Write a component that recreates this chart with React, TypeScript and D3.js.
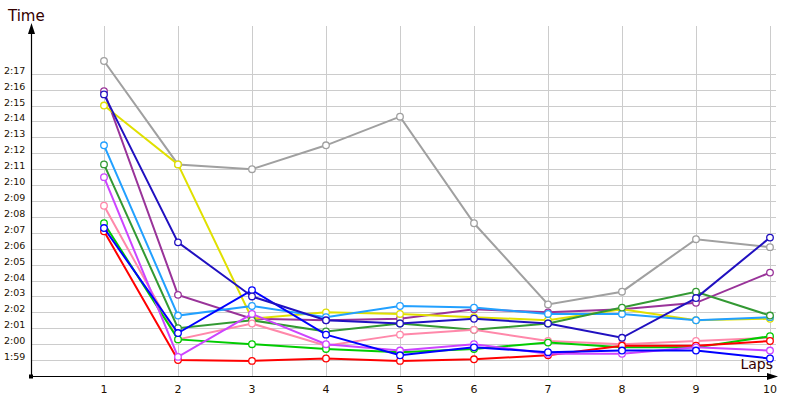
import React, { useEffect, useRef } from 'react';
import * as d3 from 'd3';

const laps = [1, 2, 3, 4, 5, 6, 7, 8, 9, 10];

// lap times in seconds (2:00 = 120)
const grayTimes = [137.8, 131.3, 131.0, 132.5, 134.3, 127.6, 122.5, 123.3, 126.6, 126.1];
const purpleTimes = [135.9, 123.1, 121.6, 121.5, 121.6, 122.2, 122.0, 122.2, 122.6, 124.5];
const navyTimes = [135.7, 126.4, 123.0, 121.5, 121.3, 121.6, 121.3, 120.4, 122.9, 126.7];
const yellowTimes = [135.0, 131.3, 121.6, 122.0, 121.9, 121.7, 121.5, 122.2, 121.5, 121.6];
const skyTimes = [132.5, 121.8, 122.4, 121.7, 122.4, 122.3, 121.9, 121.9, 121.5, 121.7];
const darkGreenTimes = [131.3, 121.0, 121.5, 120.8, 121.3, 120.9, 121.3, 122.3, 123.3, 121.8];
const violetTimes = [130.5, 119.2, 121.9, 120.0, 119.6, 120.0, 119.4, 119.4, 119.8, 119.6];
const pinkTimes = [128.7, 120.3, 121.3, 119.9, 120.6, 120.9, 120.2, 120.0, 120.2, 120.4];
const greenTimes = [127.6, 120.3, 120.0, 119.7, 119.5, 119.7, 120.1, 119.8, 119.8, 120.5];
const blueTimes = [127.3, 120.7, 123.4, 120.6, 119.3, 119.8, 119.5, 119.6, 119.6, 119.1];
const redTimes = [127.1, 119.0, 118.95, 119.1, 118.95, 119.05, 119.3, 119.9, 119.9, 120.2];

const series = [
  { color: '#a0a0a0', times: grayTimes },
  { color: '#993399', times: purpleTimes },
  { color: '#e0e000', times: yellowTimes },
  { color: '#22a0ff', times: skyTimes },
  { color: '#339933', times: darkGreenTimes },
  { color: '#ff88aa', times: pinkTimes },
  { color: '#00cc00', times: greenTimes },
  { color: '#ff0000', times: redTimes },
  { color: '#cc44ff', times: violetTimes },
  { color: '#0000ff', times: blueTimes },
  { color: '#2010c0', times: navyTimes },
];

const yTicks = d3.range(119, 138);

const fmt = (s: number) => `${Math.floor(s / 60)}:${String(s % 60).padStart(2, '0')}`;

const App: React.FC = () => {
  const svgRef = useRef<SVGSVGElement>(null);

  useEffect(() => {
    if (!svgRef.current) return;
    const svg = d3.select(svgRef.current);
    svg.selectAll('*').remove();

    const x = d3.scaleLinear().domain([0, 10]).range([30, 770]);
    const y = d3.scaleLinear().domain([118, 140]).range([376, 26]);
    const left = 31;
    const right = 777;
    const textColor = '#221100';

    // grid
    svg.append('g')
      .selectAll('line')
      .data(yTicks)
      .enter()
      .append('line')
      .attr('x1', left)
      .attr('x2', 776)
      .attr('y1', d => Math.round(y(d)) + 0.5)
      .attr('y2', d => Math.round(y(d)) + 0.5)
      .attr('stroke', '#cccccc');

    svg.append('g')
      .selectAll('line')
      .data(laps)
      .enter()
      .append('line')
      .attr('x1', d => Math.round(x(d)) + 0.5)
      .attr('x2', d => Math.round(x(d)) + 0.5)
      .attr('y1', 26)
      .attr('y2', y(118))
      .attr('stroke', '#cccccc');

    // y tick labels
    svg.append('g')
      .selectAll('text')
      .data(yTicks)
      .enter()
      .append('text')
      .attr('x', 4)
      .attr('y', d => Math.round(y(d)) - 0.5)
      .attr('fill', textColor)
      .style('font-family', 'DejaVu Sans, sans-serif')
      .style('font-size', '9.5px')
      .text(d => fmt(d));

    // x tick labels
    svg.append('g')
      .selectAll('text')
      .data(laps)
      .enter()
      .append('text')
      .attr('x', d => x(d))
      .attr('y', 393)
      .attr('text-anchor', 'middle')
      .attr('fill', textColor)
      .style('font-family', 'DejaVu Sans, sans-serif')
      .style('font-size', '11px')
      .text(d => d);

    // axes
    const y0 = Math.round(y(118)) + 0.5;
    svg.append('line')
      .attr('x1', left + 0.5).attr('x2', left + 0.5)
      .attr('y1', 30).attr('y2', y0)
      .attr('stroke', '#000').attr('stroke-width', 1.2);
    svg.append('line')
      .attr('x1', left).attr('x2', right - 6)
      .attr('y1', y0).attr('y2', y0)
      .attr('stroke', '#000').attr('stroke-width', 1.2);
    svg.append('path')
      .attr('d', `M${left + 0.5},23 L${left - 3},34 L${left + 4},34 Z`)
      .attr('fill', '#000');
    svg.append('path')
      .attr('d', `M${right + 1},${y0} L${right - 10},${y0 - 3.5} L${right - 10},${y0 + 3.5} Z`)
      .attr('fill', '#000');
    svg.append('rect')
      .attr('x', left - 2).attr('y', y0 - 2)
      .attr('width', 4).attr('height', 4)
      .attr('fill', '#000');

    // axis titles
    svg.append('text')
      .attr('x', 8).attr('y', 21)
      .attr('fill', '#330000')
      .style('font-family', 'DejaVu Sans, sans-serif')
      .style('font-size', '15px')
      .text('Time');
    svg.append('text')
      .attr('x', 773).attr('y', 369)
      .attr('text-anchor', 'end')
      .attr('fill', '#330000')
      .style('font-family', 'DejaVu Sans, sans-serif')
      .style('font-size', '14px')
      .text('Laps');

    // series
    const line = d3.line<number>()
      .x((_, i) => x(laps[i]))
      .y(d => y(d));

    series.forEach(s => {
      const g = svg.append('g');
      g.append('path')
        .datum(s.times)
        .attr('d', line)
        .attr('fill', 'none')
        .attr('stroke', s.color)
        .attr('stroke-width', 2);
      g.selectAll('circle')
        .data(s.times)
        .enter()
        .append('circle')
        .attr('cx', (_, i) => x(laps[i]))
        .attr('cy', d => y(d))
        .attr('r', 3.3)
        .attr('fill', '#fff')
        .attr('stroke', s.color)
        .attr('stroke-width', 1.3);
    });
  }, []);

  return (
    <div>
      <style>{'body{margin:0}'}</style>
      <svg ref={svgRef} width={800} height={400} style={{ display: 'block', background: '#fff' }} />
    </div>
  );
};

export default App;
